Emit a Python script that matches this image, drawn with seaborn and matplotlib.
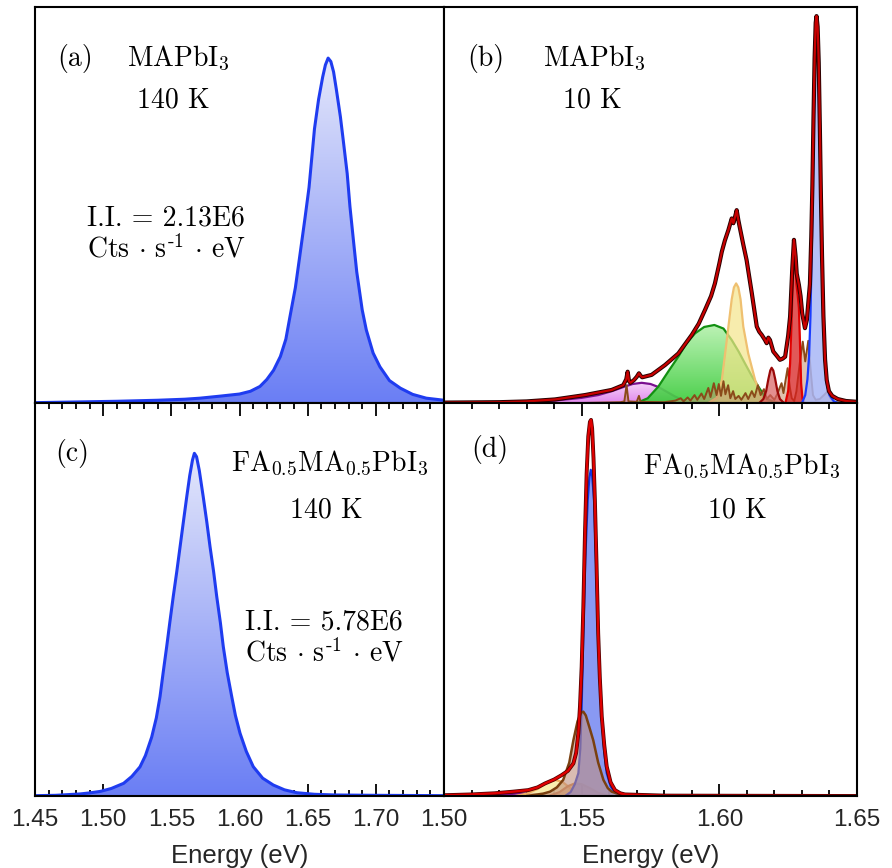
import numpy as np
import matplotlib
matplotlib.use("Agg")
import matplotlib.pyplot as plt
from matplotlib.colors import LinearSegmentedColormap
from matplotlib.ticker import MultipleLocator
import seaborn as sns

# ---------------- data ----------------
# (a) MAPbI3 140 K, intensity normalised to peak
a_energy = [1.450, 1.480, 1.510, 1.540, 1.560, 1.571, 1.586, 1.600, 1.608, 1.615, 1.620, 1.625,
            1.630, 1.634, 1.637, 1.641, 1.644, 1.648, 1.651, 1.655, 1.658, 1.661, 1.663, 1.665,
            1.667, 1.669, 1.671, 1.674, 1.676, 1.679, 1.681, 1.684, 1.686, 1.690, 1.693, 1.698,
            1.703, 1.710, 1.718, 1.727, 1.737, 1.750]
a_int = [0.001, 0.003, 0.005, 0.008, 0.011, 0.014, 0.020, 0.026, 0.034, 0.048, 0.068, 0.095,
         0.135, 0.185, 0.250, 0.335, 0.420, 0.535, 0.625, 0.795, 0.880, 0.945, 0.980, 1.000,
         0.990, 0.960, 0.910, 0.830, 0.765, 0.665, 0.570, 0.455, 0.380, 0.270, 0.212, 0.145,
         0.105, 0.065, 0.043, 0.025, 0.014, 0.008]

# (c) FA0.5MA0.5PbI3 140 K
c_energy = [1.450, 1.465, 1.483, 1.490, 1.498, 1.506, 1.515, 1.521, 1.527, 1.531, 1.5356, 1.539,
            1.5417, 1.544, 1.5466, 1.549, 1.5514, 1.554, 1.5564, 1.559, 1.5613, 1.5635, 1.5655,
            1.5669, 1.5685, 1.5705, 1.5734, 1.576, 1.5784, 1.581, 1.5833, 1.586, 1.5881, 1.591,
            1.5943, 1.597, 1.6004, 1.605, 1.6101, 1.617, 1.6248, 1.633, 1.642, 1.655, 1.670,
            1.700, 1.750]
c_int = [0.001, 0.002, 0.006, 0.009, 0.0135, 0.022, 0.037, 0.057, 0.085, 0.118, 0.172, 0.228,
         0.290, 0.360, 0.436, 0.510, 0.582, 0.655, 0.727, 0.805, 0.873, 0.935, 0.980,
         1.000, 0.990, 0.950, 0.873, 0.800, 0.727, 0.655, 0.582, 0.505, 0.436, 0.360,
         0.290, 0.235, 0.183, 0.130, 0.0855, 0.052, 0.032, 0.018, 0.0096, 0.005, 0.003,
         0.002, 0.001]

# (b) MAPbI3 10 K, intensity as fraction of panel height
b_total_e = [1.500, 1.520, 1.530, 1.5403, 1.5512, 1.5609, 1.5651, 1.5662, 1.5667, 1.5672, 1.5677,
             1.5690, 1.5700, 1.5708, 1.5715, 1.5720, 1.5754, 1.5803, 1.5851, 1.5900, 1.5925,
             1.5948, 1.5970, 1.5984, 1.6000, 1.6009, 1.6020, 1.6033, 1.6045, 1.6051, 1.6057,
             1.6063, 1.6069, 1.6075, 1.6087, 1.6099, 1.6118, 1.6136, 1.6145, 1.6154, 1.6165,
             1.6172, 1.6178, 1.6184, 1.6196, 1.6210, 1.6220, 1.6230, 1.6239, 1.6250, 1.6257,
             1.6265, 1.6271, 1.6277, 1.6281, 1.6289, 1.6295, 1.6301, 1.6311, 1.6318, 1.6324,
             1.6329, 1.6334, 1.6338, 1.6342, 1.6346, 1.6350, 1.6353, 1.6357, 1.6361, 1.6365,
             1.6369, 1.6373, 1.6378, 1.6384, 1.6390, 1.6398, 1.6410, 1.6430, 1.6460, 1.6500]
b_total_i = [0.001, 0.002, 0.004, 0.009, 0.020, 0.033, 0.045, 0.060, 0.079, 0.055, 0.051,
             0.058, 0.066, 0.075, 0.068, 0.065, 0.071, 0.096, 0.125, 0.172, 0.200,
             0.235, 0.270, 0.302, 0.352, 0.382, 0.410, 0.437, 0.466, 0.454, 0.470,
             0.487, 0.462, 0.441, 0.400, 0.361, 0.277, 0.193, 0.180, 0.172, 0.160,
             0.151, 0.165, 0.159, 0.130, 0.118, 0.109, 0.112, 0.117, 0.170, 0.218,
             0.340, 0.412, 0.370, 0.327, 0.298, 0.270, 0.226, 0.189, 0.210, 0.260,
             0.300, 0.420, 0.550, 0.720, 0.870, 0.960, 0.977, 0.950, 0.860, 0.700,
             0.520, 0.370, 0.220, 0.110, 0.058, 0.030, 0.018, 0.010, 0.005, 0.003]

b_purple_e = [1.5200, 1.5300, 1.5400, 1.5500, 1.5560, 1.5610, 1.5650, 1.5685, 1.5718, 1.5750,
              1.5780, 1.5810, 1.5840, 1.5870, 1.5900, 1.5930]
b_purple_i = [0.0, 0.002, 0.006, 0.013, 0.020, 0.030, 0.040, 0.048, 0.051, 0.048,
              0.040, 0.028, 0.016, 0.007, 0.002, 0.0]

b_green_e = [1.5700, 1.5740, 1.5778, 1.5815, 1.5851, 1.5880, 1.5912, 1.5945, 1.5982, 1.6015,
             1.6045, 1.6070, 1.6093, 1.6118, 1.6142, 1.6160, 1.6178, 1.6200, 1.6220]
b_green_i = [0.0, 0.012, 0.041, 0.080, 0.117, 0.150, 0.176, 0.192, 0.197, 0.188,
             0.159, 0.130, 0.100, 0.068, 0.041, 0.022, 0.009, 0.002, 0.0]

b_yellow_e = [1.5960, 1.5991, 1.6009, 1.6021, 1.6033, 1.6045, 1.6053, 1.6061, 1.6069, 1.6077,
              1.6087, 1.6105, 1.6130, 1.6154, 1.6175]
b_yellow_i = [0.0, 0.013, 0.058, 0.125, 0.193, 0.262, 0.292, 0.302, 0.292, 0.262,
              0.193, 0.125, 0.058, 0.013, 0.0]

b_darkred_e = [1.6145, 1.6160, 1.6170, 1.6178, 1.6185, 1.6190, 1.6196, 1.6203, 1.6211, 1.6220, 1.6235]
b_darkred_i = [0.0, 0.010, 0.030, 0.060, 0.082, 0.089, 0.082, 0.060, 0.030, 0.010, 0.0]

b_red_e = [1.6240, 1.6250, 1.6257, 1.6263, 1.6268, 1.6272, 1.6276, 1.6280, 1.6285, 1.6289,
           1.6293, 1.6297, 1.6302, 1.6310]
b_red_i = [0.0, 0.030, 0.100, 0.220, 0.360, 0.412, 0.370, 0.300, 0.270, 0.240,
           0.150, 0.050, 0.010, 0.0]

b_blue_e = [1.6300, 1.6312, 1.6320, 1.6326, 1.6331, 1.6336, 1.6340, 1.6344, 1.6348, 1.6352,
            1.6356, 1.6360, 1.6364, 1.6368, 1.6372, 1.6377, 1.6383, 1.6390, 1.6400, 1.6415, 1.6430]
b_blue_i = [0.0, 0.020, 0.060, 0.120, 0.220, 0.400, 0.580, 0.760, 0.900, 0.955,
            0.930, 0.850, 0.700, 0.520, 0.370, 0.220, 0.110, 0.050, 0.020, 0.005, 0.0]

b_brown_e = [1.5500, 1.5640, 1.5655, 1.5663, 1.5670, 1.5700, 1.5708, 1.5714, 1.5800, 1.5840,
             1.5860, 1.5870, 1.5885, 1.5895, 1.5910, 1.5920, 1.5935, 1.5945, 1.5960, 1.5968,
             1.5980, 1.5990, 1.5998, 1.6006, 1.6015, 1.6022, 1.6032, 1.6040, 1.6050, 1.6058,
             1.6070, 1.6080, 1.6095, 1.6105, 1.6118, 1.6128, 1.6140, 1.6150, 1.6162, 1.6172,
             1.6185, 1.6200, 1.6212, 1.6220, 1.6226, 1.6233, 1.6240, 1.6248, 1.6256, 1.6263,
             1.6272, 1.6280, 1.6292, 1.6303, 1.6312, 1.6323, 1.6332, 1.6340, 1.6350, 1.6365,
             1.6380, 1.6393, 1.6403, 1.6415, 1.6500]
b_brown_i = [0.0, 0.002, 0.004, 0.045, 0.004, 0.003, 0.018, 0.003, 0.002, 0.006,
             0.012, 0.004, 0.014, 0.006, 0.020, 0.008, 0.024, 0.010, 0.038, 0.015,
             0.050, 0.020, 0.048, 0.018, 0.055, 0.022, 0.045, 0.012, 0.030, 0.010,
             0.018, 0.008, 0.025, 0.010, 0.030, 0.015, 0.045, 0.020, 0.035, 0.010,
             0.020, 0.008, 0.025, 0.040, 0.050, 0.025, 0.055, 0.088, 0.040, 0.012,
             0.005, 0.030, 0.100, 0.155, 0.105, 0.157, 0.080, 0.020, 0.008, 0.010,
             0.020, 0.029, 0.012, 0.002, 0.0]

# (d) FA0.5MA0.5PbI3 10 K
d_total_e = [1.500, 1.510, 1.5185, 1.5250, 1.5306, 1.5340, 1.5367, 1.5400, 1.5427, 1.5450,
             1.5470, 1.5480, 1.5488, 1.5494, 1.5500, 1.5506, 1.5512, 1.5518, 1.5524, 1.5530,
             1.5534, 1.5538, 1.5543, 1.5548, 1.5554, 1.5560, 1.5566, 1.5573, 1.5582, 1.5591,
             1.5605, 1.5621, 1.5640, 1.5657, 1.5800, 1.6500]
d_total_i = [0.002, 0.004, 0.007, 0.011, 0.015, 0.022, 0.032, 0.042, 0.053, 0.064,
             0.083, 0.110, 0.160, 0.230, 0.329, 0.480, 0.668, 0.820, 0.915, 0.952,
             0.957, 0.935, 0.860, 0.753, 0.590, 0.414, 0.300, 0.202, 0.130, 0.075,
             0.035, 0.015, 0.007, 0.004, 0.001, 0.000]

d_blue_e = [1.5440, 1.5460, 1.5475, 1.5488, 1.5495, 1.5500, 1.5506, 1.5513, 1.5522, 1.5528,
            1.5533, 1.5538, 1.5545, 1.5552, 1.5560, 1.5566, 1.5573, 1.5582, 1.5591, 1.5605,
            1.5621, 1.5640]
d_blue_i = [0.0, 0.010, 0.030, 0.058, 0.120, 0.227, 0.414, 0.600, 0.753, 0.810,
            0.830, 0.815, 0.753, 0.600, 0.414, 0.300, 0.200, 0.110, 0.058, 0.025,
            0.008, 0.0]

d_brown_e = [1.5300, 1.5360, 1.5385, 1.5410, 1.5433, 1.5455, 1.5470, 1.5485, 1.5498, 1.5506,
             1.5515, 1.5528, 1.5542, 1.5560, 1.5579, 1.5595, 1.5609, 1.5640, 1.5700]
d_brown_i = [0.0, 0.006, 0.011, 0.022, 0.041, 0.085, 0.142, 0.190, 0.212, 0.2145,
             0.205, 0.175, 0.142, 0.085, 0.041, 0.020, 0.011, 0.004, 0.0]

d_yellow_e = [1.5260, 1.5300, 1.5340, 1.5370, 1.5403, 1.5430, 1.5455, 1.5475, 1.5500, 1.5520]
d_yellow_i = [0.0, 0.006, 0.018, 0.032, 0.041, 0.036, 0.022, 0.010, 0.002, 0.0]

d_orange_e = [1.5380, 1.5420, 1.5450, 1.5475, 1.5500, 1.5530, 1.5560, 1.5600]
d_orange_i = [0.0, 0.010, 0.025, 0.032, 0.030, 0.020, 0.008, 0.0]

d_purple_e = [1.5150, 1.5220, 1.5280, 1.5330, 1.5380]
d_purple_i = [0.0, 0.004, 0.007, 0.005, 0.0]

left_ticks = [1.45, 1.50, 1.55, 1.60, 1.65, 1.70, 1.75]
left_labels = ["1.45", "1.50", "1.55", "1.60", "1.65", "1.70", ""]
right_ticks = [1.50, 1.55, 1.60, 1.65]
right_labels = ["1.50", "1.55", "1.60", "1.65"]

# ---------------- style ----------------
sns.set_style("white")
plt.rcParams["font.family"] = ["Liberation Sans", "DejaVu Sans"]
plt.rcParams["mathtext.fontset"] = "cm"

W, H = 892, 868
fig = plt.figure(figsize=(W / 100, H / 100), dpi=100)

x0, xm, x1 = 35 / W, 444 / W, 857 / W
ytop, ym, ybot = 1 - 7 / H, 1 - 403 / H, 1 - 796 / H
ax_a = fig.add_axes([x0, ym, xm - x0, ytop - ym])
ax_b = fig.add_axes([xm, ym, x1 - xm, ytop - ym])
ax_c = fig.add_axes([x0, ybot, xm - x0, ym - ybot])
ax_d = fig.add_axes([xm, ybot, x1 - xm, ym - ybot])


def grad_fill(ax, x, y, top, bottom, z, alpha=1.0):
    x = np.asarray(x, float)
    y = np.asarray(y, float)
    poly = ax.fill_between(x, 0, y, facecolor="none", edgecolor="none", zorder=z)
    cmap = LinearSegmentedColormap.from_list("g", [bottom, top])
    grad = np.linspace(0, 1, 256)[:, None]
    im = ax.imshow(grad, extent=[x.min(), x.max(), 0, y.max()], origin="lower",
                   cmap=cmap, aspect="auto", zorder=z, alpha=alpha, interpolation="bilinear")
    im.set_clip_path(poly.get_paths()[0], ax.transData)


def comp(ax, x, y, fill, edge, z, alpha=0.75, lw=1.6, top=None):
    if top is None:
        ax.fill_between(x, 0, y, color=fill, alpha=alpha, lw=0, zorder=z)
    else:
        grad_fill(ax, x, y, top, fill, z, alpha)
    sns.lineplot(x=x, y=y, ax=ax, color=edge, linewidth=lw, sort=False,
                 estimator=None, legend=False, zorder=z + 0.5)


# (a)
grad_fill(ax_a, a_energy, a_int, "#e4e7fb", "#6a7ef4", 2)
sns.lineplot(x=a_energy, y=a_int, ax=ax_a, color="#1f3cf0", linewidth=2.2, sort=False,
             estimator=None, legend=False, zorder=3)
# (c)
grad_fill(ax_c, c_energy, c_int, "#e4e7fb", "#6a7ef4", 2)
sns.lineplot(x=c_energy, y=c_int, ax=ax_c, color="#1f3cf0", linewidth=2.2, sort=False,
             estimator=None, legend=False, zorder=3)

# (b)
comp(ax_b, b_purple_e, b_purple_i, "#d860e8", "#7a1090", 2, alpha=0.75, top="#f2c8f6")
comp(ax_b, b_green_e, b_green_i, "#3ccc3c", "#129012", 3, alpha=0.92, top="#b8f2b0")
comp(ax_b, b_yellow_e, b_yellow_i, "#f4e48a", "#efc070", 4, alpha=0.7)
comp(ax_b, b_brown_e, b_brown_i, "#c89070", "#8b4a1a", 5, alpha=0.55, lw=1.4)
comp(ax_b, b_darkred_e, b_darkred_i, "#d86060", "#9a0808", 6, alpha=0.7)
comp(ax_b, b_red_e, b_red_i, "#d82020", "#e00000", 7, alpha=0.75)
comp(ax_b, b_blue_e, b_blue_i, "#a8b6f6", "#1a3cff", 8, alpha=0.85)
sns.lineplot(x=b_total_e, y=b_total_i, ax=ax_b, color="#2a0000", linewidth=3.0, sort=False,
             estimator=None, legend=False, zorder=10)
sns.lineplot(x=b_total_e, y=b_total_i, ax=ax_b, color="#c80000", linewidth=1.6, sort=False,
             estimator=None, legend=False, zorder=11)

# (d)
comp(ax_d, d_purple_e, d_purple_i, "#c060d8", "#7a1090", 2, alpha=0.7)
comp(ax_d, d_yellow_e, d_yellow_i, "#f8eaa0", "#f0b060", 3, alpha=0.85)
comp(ax_d, d_orange_e, d_orange_i, "#e0a060", "#d08040", 4, alpha=0.7)
comp(ax_d, d_blue_e, d_blue_i, "#7c8ef2", "#1030e0", 5, alpha=0.9)
comp(ax_d, d_brown_e, d_brown_i, "#c09080", "#7a4010", 6, alpha=0.6, lw=1.8)
sns.lineplot(x=d_total_e, y=d_total_i, ax=ax_d, color="#500000", linewidth=2.8, sort=False,
             estimator=None, legend=False, zorder=10)
sns.lineplot(x=d_total_e, y=d_total_i, ax=ax_d, color="#e00000", linewidth=1.7, sort=False,
             estimator=None, legend=False, zorder=11)

# ---------------- axes styling ----------------
ax_a.set_ylim(0, 1 / 0.871)
ax_c.set_ylim(0, 1 / 0.872)
ax_b.set_ylim(0, 1)
ax_d.set_ylim(0, 1)
for ax in (ax_a, ax_c):
    ax.set_xlim(1.45, 1.75)
for ax in (ax_b, ax_d):
    ax.set_xlim(1.50, 1.65)

for ax in (ax_a, ax_b, ax_c, ax_d):
    ax.set_ylabel("")
    ax.set_yticks([])
    ax.set_xlabel("")
    for s in ax.spines.values():
        s.set_linewidth(1.5)
        s.set_color("black")
        s.set_visible(True)
        s.set_zorder(20)

for ax in (ax_a, ax_b):
    ax.set_xticks([])

ax_c.set_xticks(left_ticks, labels=left_labels)
ax_d.set_xticks(right_ticks, labels=right_labels)
for ax in (ax_c, ax_d):
    ax.xaxis.set_minor_locator(MultipleLocator(0.01))
    ax.tick_params(axis="x", which="both", direction="in", top=True, bottom=True,
                   width=1.3, color="black", labelsize=17.5, pad=9)
    ax.tick_params(axis="x", which="major", length=9)
    ax.tick_params(axis="x", which="minor", length=4.5)
    ax.set_xlabel("Energy (eV)", fontsize=18.5, labelpad=10)

# ---------------- panel texts ----------------
fs = 20


def t(x, y, s):
    fig.text(x / W, 1 - y / H, s, fontsize=fs, ha="left", va="baseline", color="black",
             family="cmr10", transform=fig.transFigure, zorder=30)


cts = r"Cts $\cdot$ s$^{\text{-1}}$ $\cdot$ eV"

t(57, 66, "(a)")
t(127, 66, r"MAPbI$_3$")
t(137, 107, "140 K")
t(87, 225, "I.I. = 2.13E6")
t(87, 258, cts)

t(467, 66, "(b)")
t(543, 66, r"MAPbI$_3$")
t(563, 107, "10 K")

t(55, 461, "(c)")
t(231, 471, r"FA$_{0.5}$MA$_{0.5}$PbI$_3$")
t(290, 518, "140 K")
t(245, 630, "I.I. = 5.78E6")
t(245, 662, cts)

t(471, 457, "(d)")
t(643, 474, r"FA$_{0.5}$MA$_{0.5}$PbI$_3$")
t(708, 517, "10 K")

fig.savefig("out.png", dpi=100)
